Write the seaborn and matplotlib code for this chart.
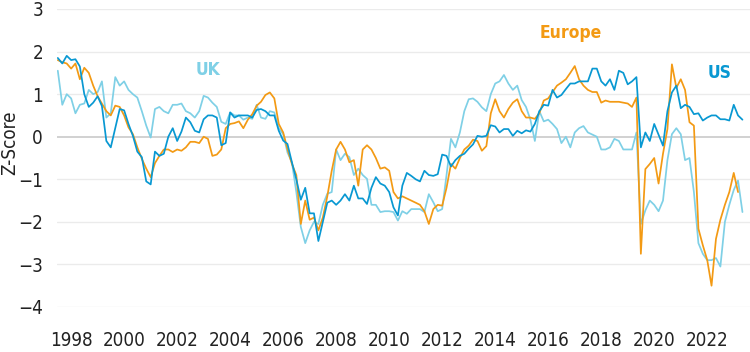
import pandas as pd
import numpy as np
import matplotlib
matplotlib.use('Agg')
import matplotlib.pyplot as plt
import matplotlib.dates as mdates
import seaborn as sns

# bimonthly observations, Jul 1997 -> May 2023
start_date = '1997-07-01'
n_obs = 156

us_vals = [
    1.85, 1.72, 1.9,
    1.8, 1.82, 1.65, 1.0, 0.7, 0.8,
    0.95, 0.72, -0.1, -0.25, 0.2, 0.65,
    0.62, 0.3, 0.02, -0.35, -0.48, -1.05,
    -1.12, -0.35, -0.45, -0.4, 0.0, 0.2,
    -0.1, 0.12, 0.45, 0.34, 0.14, 0.1,
    0.41, 0.5, 0.5, 0.45, -0.2, -0.15,
    0.57, 0.45, 0.5, 0.5, 0.5, 0.45,
    0.63, 0.65, 0.6, 0.5, 0.5, 0.14,
    -0.09, -0.17, -0.6, -1.0, -1.48, -1.2,
    -1.8, -1.8, -2.45, -2.0, -1.55, -1.5,
    -1.6, -1.5, -1.35, -1.5, -1.15, -1.45,
    -1.45, -1.58, -1.2, -0.95, -1.1, -1.15,
    -1.3, -1.66, -1.85, -1.15, -0.85, -0.92,
    -1.0, -1.05, -0.8, -0.9, -0.92, -0.88,
    -0.42, -0.45, -0.7, -0.55, -0.45, -0.4,
    -0.28, -0.18, 0.02, 0.0, 0.02, 0.27,
    0.24, 0.1, 0.18, 0.18, 0.02, 0.14,
    0.08, 0.15, 0.12, 0.3, 0.6, 0.75,
    0.73, 1.1, 0.92, 0.98, 1.12, 1.25,
    1.25, 1.3, 1.3, 1.3, 1.6, 1.6,
    1.3, 1.2, 1.35, 1.1, 1.55, 1.5,
    1.23, 1.3, 1.4, -0.25, 0.1, -0.1,
    0.3, 0.05, -0.21, 0.6, 1.04, 1.2,
    0.67, 0.75, 0.7, 0.53, 0.55, 0.38,
    0.45, 0.5, 0.5, 0.41, 0.41, 0.38,
    0.75, 0.5, 0.4,
]

europe_vals = [
    1.8, 1.75, 1.72,
    1.6, 1.72, 1.35, 1.62, 1.5, 1.2,
    0.95, 0.78, 0.6, 0.5, 0.73, 0.7,
    0.5, 0.22, 0.06, -0.25, -0.52, -0.75,
    -0.95, -0.62, -0.45, -0.3, -0.3, -0.36,
    -0.3, -0.33, -0.25, -0.12, -0.12, -0.15,
    0.0, -0.05, -0.45, -0.42, -0.3, 0.2,
    0.3, 0.32, 0.36, 0.2, 0.4, 0.53,
    0.73, 0.82, 0.98, 1.04, 0.9, 0.3,
    0.1, -0.29, -0.64, -0.9, -2.05, -1.5,
    -1.95, -1.9, -2.2, -1.9, -1.4, -0.8,
    -0.3, -0.12, -0.3, -0.6, -0.55, -1.15,
    -0.3, -0.2, -0.3, -0.5, -0.75, -0.72,
    -0.8, -1.3, -1.45, -1.4, -1.45, -1.5,
    -1.55, -1.6, -1.75, -2.05, -1.7, -1.6,
    -1.62, -1.2, -0.64, -0.75, -0.5, -0.3,
    -0.21, -0.07, -0.1, -0.33, -0.22, 0.55,
    0.88, 0.6, 0.45, 0.65, 0.8, 0.88,
    0.6, 0.45, 0.45, 0.42, 0.55, 0.85,
    0.9, 1.05, 1.2, 1.27, 1.35, 1.5,
    1.66, 1.35, 1.2, 1.1, 1.05, 1.05,
    0.8, 0.85, 0.82, 0.82, 0.82, 0.8,
    0.78, 0.7, 0.92, -2.75, -0.76, -0.64,
    -0.5, -1.1, -0.4, 0.18, 1.7, 1.15,
    1.35, 1.1, 0.34, 0.26, -2.16, -2.55,
    -2.9, -3.5, -2.4, -1.95, -1.6, -1.3,
    -0.85, -1.3, np.nan,
]

uk_vals = [
    1.55, 0.75, 1.0,
    0.9, 0.55, 0.75, 0.78, 1.1, 1.0,
    1.05, 1.3, 0.45, 0.55, 1.4, 1.2,
    1.3, 1.1, 1.0, 0.92, 0.6, 0.26,
    -0.02, 0.65, 0.7, 0.6, 0.55, 0.75,
    0.75, 0.78, 0.6, 0.55, 0.45, 0.6,
    0.96, 0.92, 0.8, 0.7, 0.35, 0.3,
    0.57, 0.5, 0.5, 0.4, 0.45, 0.42,
    0.75, 0.45, 0.42, 0.6, 0.57, 0.2,
    0.06, -0.37, -0.6, -1.3, -2.12, -2.5,
    -2.2, -2.0, -2.05, -1.6, -1.34, -1.3,
    -0.3, -0.55, -0.4, -0.48, -0.9, -0.75,
    -0.9, -0.99, -1.6, -1.6, -1.77, -1.75,
    -1.75, -1.77, -1.97, -1.75, -1.81, -1.7,
    -1.7, -1.7, -1.77, -1.35, -1.54, -1.75,
    -1.7, -0.9, -0.05, -0.25, 0.1, 0.6,
    0.88, 0.9, 0.82, 0.69, 0.6, 1.0,
    1.25, 1.3, 1.45, 1.25, 1.1, 1.2,
    0.86, 0.7, 0.4, -0.1, 0.6, 0.36,
    0.4, 0.3, 0.18, -0.15, 0.0, -0.25,
    0.1, 0.2, 0.25, 0.1, 0.05, 0.0,
    -0.3, -0.3, -0.25, -0.05, -0.1, -0.3,
    -0.3, -0.3, 0.1, -2.05, -1.73, -1.5,
    -1.6, -1.75, -1.5, -0.55, 0.06, 0.2,
    0.06, -0.55, -0.5, -1.3, -2.5, -2.75,
    -2.9, -2.9, -2.85, -3.05, -2.0, -1.6,
    -1.25, -1.03, -1.77,
]

series_names = ['UK', 'Europe', 'US']
colors = {'UK': '#7fd0e6', 'Europe': '#f39a14', 'US': '#0898d2'}
y_ticks = [-4, -3, -2, -1, 0, 1, 2, 3]

dates = pd.date_range(start_date, periods=n_obs, freq='2MS')
df = pd.DataFrame({'date': dates, 'UK': uk_vals, 'Europe': europe_vals, 'US': us_vals})
long_df = df.melt(id_vars='date', var_name='region', value_name='z')

sns.set_theme(style='white')
plt.rcParams['font.family'] = ['DejaVu Sans']
plt.rcParams['font.stretch'] = 'condensed'

fig = plt.figure(figsize=(7.5, 3.52), dpi=100)
ax = fig.add_axes([57 / 750, 1 - 307 / 352, 693 / 750, 298 / 352])

# gridlines
for yv in y_ticks:
    if yv == 0:
        ax.axhline(yv, color='#c9c9c9', lw=1.2, zorder=1)
    else:
        ax.axhline(yv, color='#ebebeb', lw=1.0, zorder=1)

sns.lineplot(data=long_df, x='date', y='z', hue='region', hue_order=series_names,
             palette=colors, linewidth=1.25, legend=False, ax=ax, zorder=3)

ax.set_ylim(-4, 3)
ax.set_xlim(pd.Timestamp('1997-06-20'), pd.Timestamp('2023-08-13'))
ax.set_yticks(y_ticks)
ax.xaxis.set_major_locator(mdates.YearLocator(2))
ax.xaxis.set_major_formatter(mdates.DateFormatter('%Y'))
ax.tick_params(axis='both', length=0, labelsize=13.5, colors='#222222')
ax.tick_params(axis='x', pad=17)
ax.tick_params(axis='y', pad=10)
ax.set_xlabel('')
ax.set_ylabel('Z-Score', fontsize=13.5, color='#222222')
ax.yaxis.set_label_coords(-0.055, 0.55)
sns.despine(ax=ax, left=True, bottom=True)
ax.grid(False)

# series labels
ax.text(pd.Timestamp('2003-03-01'), 1.57, 'UK', color=colors['UK'], fontsize=12.5,
        fontweight='bold', ha='center', va='center')
ax.text(pd.Timestamp('2016-11-01'), 2.44, 'Europe', color=colors['Europe'], fontsize=12.5,
        fontweight='bold', ha='center', va='center')
ax.text(pd.Timestamp('2022-06-20'), 1.5, 'US', color=colors['US'], fontsize=12.5,
        fontweight='bold', ha='center', va='center')

fig.savefig('out.png', dpi=100)
